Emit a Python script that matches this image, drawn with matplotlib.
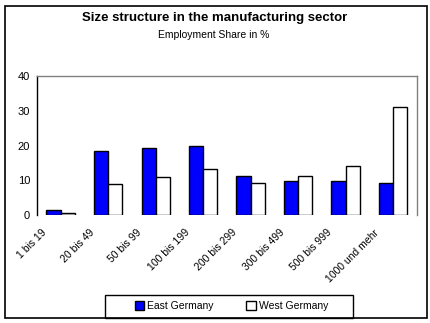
import matplotlib
matplotlib.use("Agg")
import matplotlib.pyplot as plt
import matplotlib.transforms as mtransforms
from matplotlib.patches import Rectangle, Patch
import numpy as np

categories = ["1 bis 19", "20 bis 49", "50 bis 99", "100 bis 199", "200 bis 299",
              "300 bis 499", "500 bis 999", "1000 und mehr"]
east = [1.5, 18.4, 19.2, 20.0, 11.1, 9.7, 9.7, 9.1]
west = [0.7, 8.8, 10.8, 13.1, 9.1, 11.1, 14.0, 31.0]
yticks = [0, 10, 20, 30, 40]

plt.rcParams['font.family'] = ['Liberation Sans', 'DejaVu Sans']

W, H = 431, 323
fig = plt.figure(figsize=(W / 100, H / 100), dpi=100)
fig.patch.set_facecolor('white')

# chart border
fig.add_artist(Rectangle((5 / W, 1 - 318 / H), (427 - 5) / W, (318 - 6) / H,
                         transform=fig.transFigure, fill=False, lw=1.2, ec='black'))

ax = fig.add_axes([37 / W, 1 - 215 / H, (417 - 37) / W, (215 - 76) / H])
x = np.arange(len(categories))
bw = 0.3
ax.bar(x - bw / 2, east, bw, color='#0000FF', edgecolor='black', lw=1.0)
ax.bar(x + bw / 2, west, bw, color='white', edgecolor='black', lw=1.0)
ax.set_xlim(-0.5, len(categories) - 0.5)
ax.set_ylim(0, 40)
ax.set_yticks(yticks)
ax.set_yticklabels([str(v) for v in yticks], fontsize=8)
ax.tick_params(axis='y', length=0, pad=5)
ax.tick_params(axis='x', length=0, pad=9)
ax.set_xticks(x)
ax.set_xticklabels(categories, rotation=45, ha='right', va='top', fontsize=7.5)
offset = mtransforms.ScaledTranslation(-12 / 100, 0, fig.dpi_scale_trans)
for lab in ax.get_xticklabels():
    lab.set_transform(lab.get_transform() + offset)
ax.spines['bottom'].set_visible(False)
ax.spines['left'].set_color('black')
ax.spines['top'].set_color('#808080')
ax.spines['right'].set_color('#808080')
for s in ax.spines.values():
    s.set_linewidth(1.0)

fig.text(215 / W, 1 - 18 / H, "Size structure in the manufacturing sector",
         ha='center', va='center', fontsize=9.5, fontweight='bold')
fig.text(214 / W, 1 - 35 / H, "Employment Share in %", ha='center', va='center', fontsize=7.5)

# legend box
fig.add_artist(Rectangle((105 / W, 1 - 318 / H), (353 - 105) / W, (318 - 295) / H,
                         transform=fig.transFigure, fill=False, lw=1.0, ec='black'))
handles = [Patch(facecolor='#0000FF', edgecolor='black', label='East Germany'),
           Patch(facecolor='white', edgecolor='black', label='West Germany')]
fig.legend(handles=handles, loc='center', bbox_to_anchor=(231.5 / W, 1 - 306 / H),
           ncol=2, frameon=False, fontsize=7.5, handlelength=0.9, handleheight=1.0,
           handletextpad=0.3, columnspacing=3.1, borderaxespad=0, borderpad=0)

fig.savefig("out.png", dpi=100)
